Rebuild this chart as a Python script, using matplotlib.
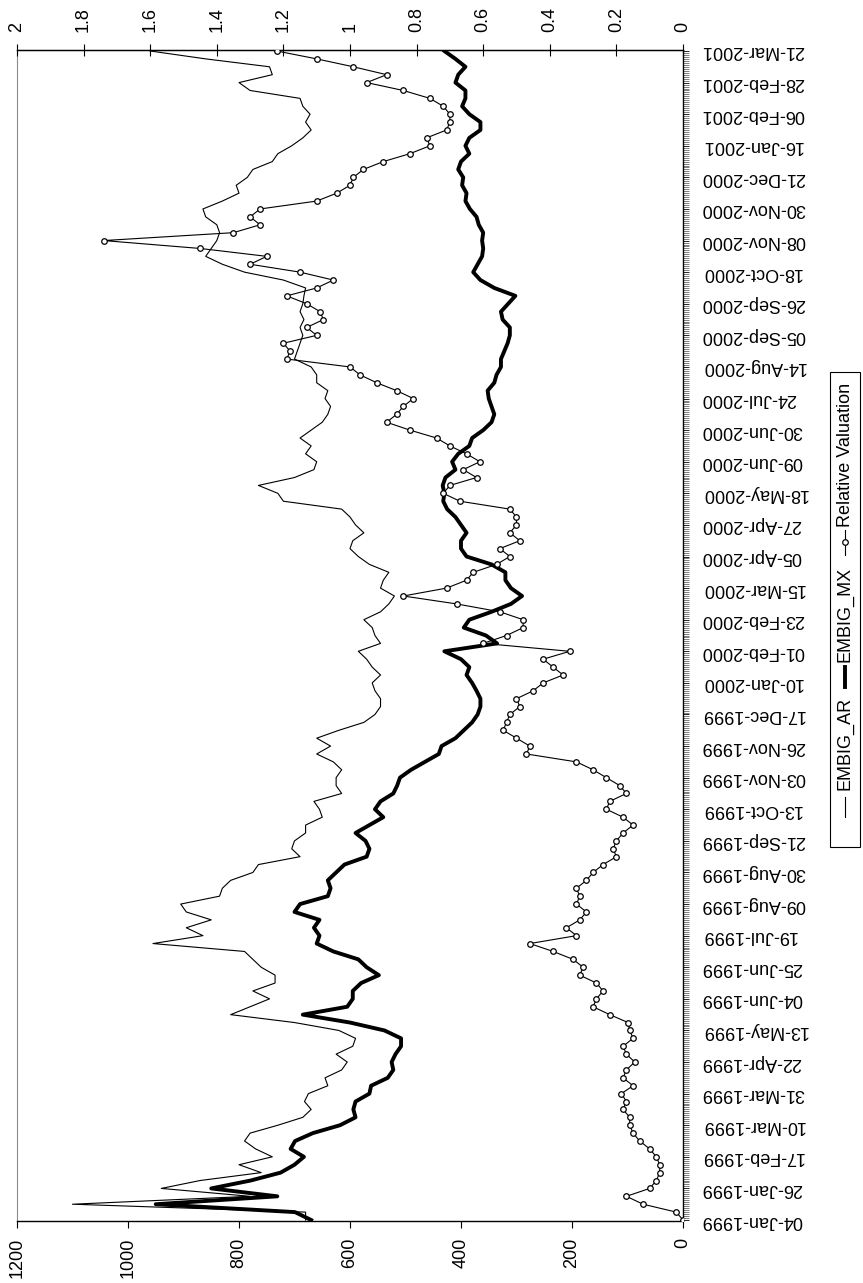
import matplotlib

matplotlib.use("Agg")

import matplotlib.pyplot as plt
from matplotlib.lines import Line2D
from matplotlib.patches import Rectangle
from matplotlib.ticker import MultipleLocator
import numpy as np

# category labels shown on the date axis (one every LABEL_EVERY trading days)
DATE_LABELS = [
    "04-Jan-1999", "26-Jan-1999", "17-Feb-1999", "10-Mar-1999", "31-Mar-1999",
    "22-Apr-1999", "13-May-1999", "04-Jun-1999", "25-Jun-1999", "19-Jul-1999",
    "09-Aug-1999", "30-Aug-1999", "21-Sep-1999", "13-Oct-1999", "03-Nov-1999",
    "26-Nov-1999", "17-Dec-1999", "10-Jan-2000", "01-Feb-2000", "23-Feb-2000",
    "15-Mar-2000", "05-Apr-2000", "27-Apr-2000", "18-May-2000", "09-Jun-2000",
    "30-Jun-2000", "24-Jul-2000", "14-Aug-2000", "05-Sep-2000", "26-Sep-2000",
    "18-Oct-2000", "08-Nov-2000", "30-Nov-2000", "21-Dec-2000", "16-Jan-2001",
    "06-Feb-2001", "28-Feb-2001", "21-Mar-2001",
]
LABEL_EVERY = 16
SAMPLE_EVERY = 4  # values below are read every 4th trading day

# spreads in bp
EMBIG_AR = [
    680, 680, 1100, 780, 940, 870, 760, 800, 740, 770, 790, 780, 730,
    685, 670, 682, 675, 640, 645, 615, 605, 625, 595, 590, 620, 700, 815,
    780, 745, 775, 735, 735, 760, 775, 790, 955, 865, 895, 850, 895, 905,
    835, 830, 815, 775, 765, 690, 705, 700, 680, 680, 650, 655, 665, 615,
    625, 625, 615, 630, 660, 635, 660, 620, 575, 555, 545, 545, 555, 560,
    545, 560, 570, 585, 545, 555, 560, 575, 545, 530, 520, 545, 540, 530,
    565, 585, 600, 595, 575, 590, 600, 615, 720, 730, 765, 700, 665, 660,
    680, 670, 690, 670, 650, 640, 635, 645, 640, 660, 660, 670, 700, 695,
    690, 685, 690, 683, 690, 685, 683, 680, 720, 790, 830, 860, 850, 840,
    835, 840, 860, 865, 830, 800, 805, 785, 775, 740, 730, 705, 685, 670,
    680, 672, 685, 690, 780, 800, 740, 745, 860, 960,
]
EMBIG_MX = [
    670, 699, 950, 731, 850, 779, 725, 700, 683, 707, 699, 667, 618,
    590, 594, 590, 565, 562, 532, 522, 525, 518, 508, 508, 538, 600, 685,
    605, 595, 595, 580, 548, 570, 585, 630, 660, 655, 665, 655, 700, 690,
    640, 635, 640, 625, 610, 570, 565, 572, 590, 565, 540, 555, 545, 522,
    515, 510, 490, 465, 440, 435, 410, 395, 380, 370, 365, 365, 372, 380,
    390, 385, 400, 430, 335, 355, 395, 385, 345, 310, 290, 310, 320, 320,
    345, 390, 400, 400, 390, 400, 410, 425, 432, 430, 433, 428, 410, 416,
    405, 385, 380, 360, 345, 340, 345, 350, 352, 340, 336, 328, 328, 322,
    316, 312, 312, 325, 328, 315, 302, 340, 365, 378, 370, 362, 360, 362,
    360, 368, 372, 384, 392, 390, 398, 396, 405, 400, 385, 392, 385, 365,
    365, 385, 398, 392, 392, 410, 405, 392, 410, 430,
]
RELATIVE_VALUATION = [
    0.00, 0.02, 0.12, 0.17, 0.10, 0.08, 0.07, 0.07, 0.08, 0.10, 0.13, 0.15, 0.16,
    0.16, 0.18, 0.17, 0.185, 0.15, 0.18, 0.17, 0.145, 0.17, 0.18, 0.15, 0.16,
    0.165, 0.22, 0.27, 0.26, 0.24, 0.26, 0.31, 0.30, 0.33, 0.39, 0.46, 0.32,
    0.35, 0.31, 0.29, 0.32, 0.31, 0.32, 0.29, 0.27, 0.24, 0.20, 0.21, 0.20,
    0.18, 0.15, 0.18, 0.23, 0.22, 0.17, 0.19, 0.23, 0.27, 0.32, 0.47, 0.46,
    0.50, 0.54, 0.53, 0.52, 0.49, 0.50, 0.45, 0.42, 0.36, 0.39, 0.42, 0.34,
    0.60, 0.53, 0.48, 0.48, 0.55, 0.68, 0.84, 0.71, 0.65, 0.63, 0.56, 0.52,
    0.55, 0.49, 0.52, 0.50, 0.50, 0.52, 0.67, 0.72, 0.70, 0.62, 0.66, 0.61,
    0.65, 0.70, 0.74, 0.82, 0.89, 0.86, 0.84, 0.81, 0.86, 0.92, 0.97, 1.00,
    1.19, 1.18, 1.20, 1.10, 1.13, 1.08, 1.09, 1.13, 1.19, 1.10, 1.05, 1.15,
    1.30, 1.25, 1.45, 1.74, 1.35, 1.27, 1.30, 1.27, 1.10, 1.04, 1.00, 0.99,
    0.96, 0.90, 0.82, 0.76, 0.77, 0.71, 0.70, 0.70, 0.72, 0.76, 0.84, 0.95,
    0.89, 0.99, 1.10, 1.22,
]

PRIMARY_TICKS = [0, 200, 400, 600, 800, 1000, 1200]
SECONDARY_TICKS = [0, 0.2, 0.4, 0.6, 0.8, 1.0, 1.2, 1.4, 1.6, 1.8, 2.0]
SECONDARY_LABELS = ["0", "0.2", "0.4", "0.6", "0.8", "1", "1.2", "1.4", "1.6", "1.8", "2"]
LEGEND_NAMES = ["EMBIG_AR", "EMBIG_MX", "Relative Valuation"]

plt.rcParams["font.family"] = ["Liberation Sans", "DejaVu Sans"]
plt.rcParams["font.size"] = 13

W, H = 863, 1283


def fx(px):
    return px / W


def fy(py):
    return 1 - py / H


fig = plt.figure(figsize=(W / 100, H / 100), dpi=100)
# the chart is drawn turned a quarter turn: dates run bottom -> top on the right
ax = fig.add_axes([fx(17), fy(1221), fx(683) - fx(17), fy(50) - fy(1221)])

pos = np.arange(len(EMBIG_AR)) * SAMPLE_EVERY
n_cat = (len(DATE_LABELS) - 1) * LABEL_EVERY + 1

ax.plot(EMBIG_AR, pos, color="black", lw=0.8, zorder=3)
ax.plot(EMBIG_MX, pos, color="black", lw=2.8, solid_joinstyle="round", zorder=3)
ax.set_xlim(1200, 0)
ax.set_ylim(-0.5, n_cat - 0.5)

ax.set_xticks(PRIMARY_TICKS)
ax.set_xticklabels([str(t) for t in PRIMARY_TICKS], rotation=90)
ax.tick_params(axis="x", direction="out", length=5, width=0.8, pad=7, labelsize=13)

ax.yaxis.tick_right()
ax.set_yticks(np.arange(len(DATE_LABELS)) * LABEL_EVERY)
ax.set_yticklabels(DATE_LABELS, rotation=180, va="center")
ax.yaxis.set_minor_locator(MultipleLocator(1))
ax.tick_params(axis="y", which="major", direction="out", length=4, width=0.6, pad=9, labelsize=13)
ax.tick_params(axis="y", which="minor", direction="out", length=4, width=0.45, color="#333333")

ax.spines["left"].set_color("#8c8c8c")
ax.spines["left"].set_linewidth(0.8)
for side in ("bottom", "right", "top"):
    ax.spines[side].set_linewidth(1.0)

ax2 = ax.twiny()
ax2.plot(
    RELATIVE_VALUATION, pos, color="black", lw=0.8, marker="o", ms=4,
    mfc="white", mec="black", mew=0.9, zorder=4,
)
ax2.set_xlim(2, 0)
ax2.set_xticks(SECONDARY_TICKS)
ax2.set_xticklabels(SECONDARY_LABELS, rotation=90)
ax2.tick_params(axis="x", direction="inout", length=8, width=0.8, pad=9, labelsize=13)
for side in ("left", "right", "bottom"):
    ax2.spines[side].set_visible(False)

# legend, turned like the rest of the chart
fig.patches.append(Rectangle((fx(830), fy(847)), fx(860) - fx(830), fy(372) - fy(847),
                             transform=fig.transFigure, fill=False, edgecolor="black", lw=0.8))
cx = fx(845)
fig.lines.append(Line2D([cx, cx], [fy(817), fy(797)], transform=fig.transFigure, color="black", lw=0.8))
fig.text(cx, fy(790), LEGEND_NAMES[0], rotation=90, ha="center", va="bottom", fontsize=13)
fig.lines.append(Line2D([cx, cx], [fy(687), fy(667)], transform=fig.transFigure, color="black", lw=2.8))
fig.text(cx, fy(662), LEGEND_NAMES[1], rotation=90, ha="center", va="bottom", fontsize=13)
fig.lines.append(Line2D([cx, cx], [fy(555), fy(530)], transform=fig.transFigure, color="black", lw=0.8))
fig.lines.append(Line2D([cx], [fy(542)], transform=fig.transFigure, marker="o", ms=4,
                        mfc="white", mec="black", mew=0.9))
fig.text(cx, fy(527), LEGEND_NAMES[2], rotation=90, ha="center", va="bottom", fontsize=13)

fig.savefig("out.png", dpi=100)
